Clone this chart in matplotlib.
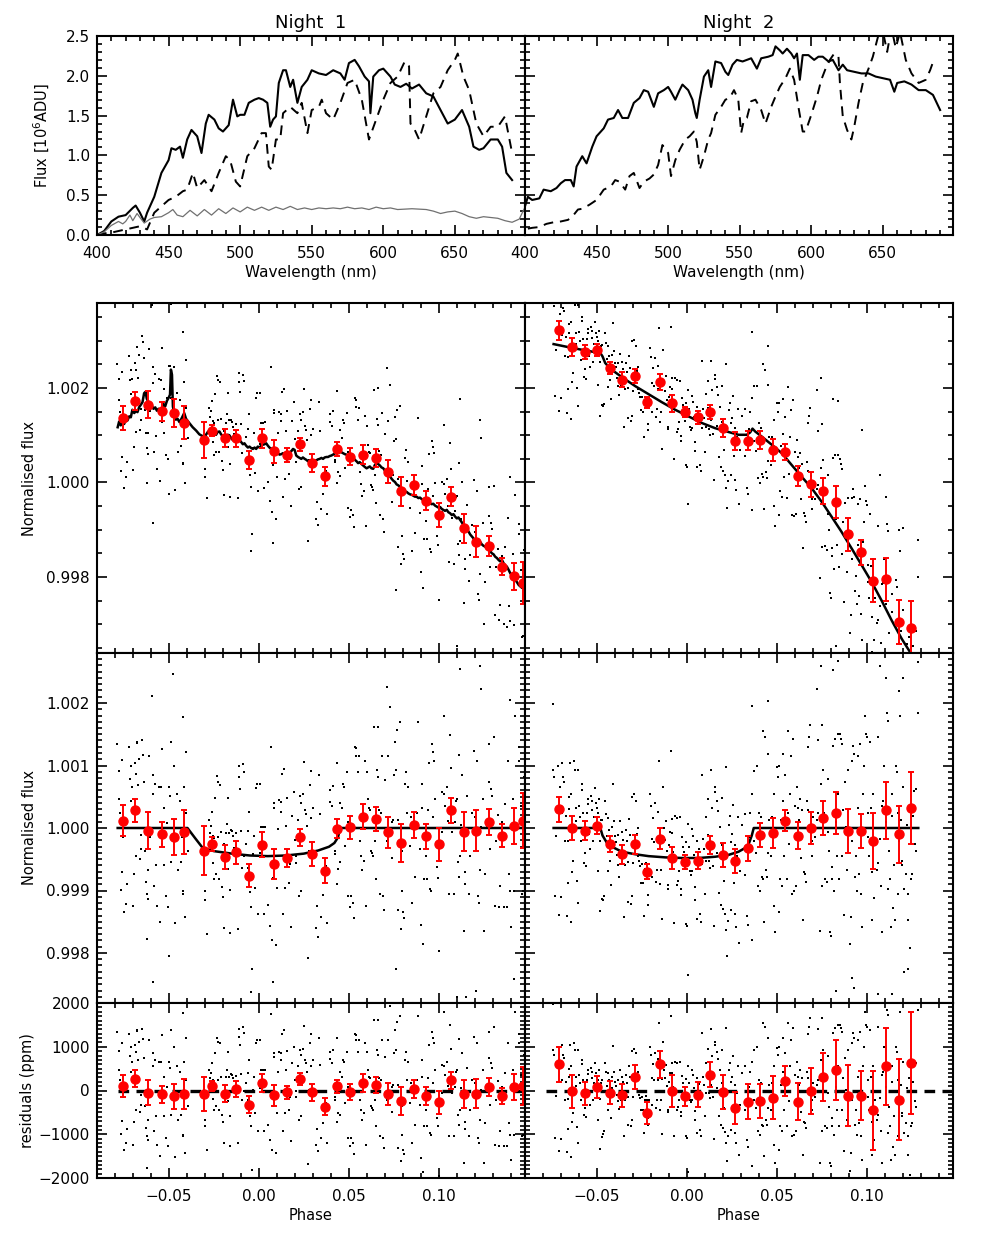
"""
Two-night transit light curves: spectra, raw and detrended flux, residuals.
Values read off the reference figure.
"""

import matplotlib

matplotlib.use("Agg")
import matplotlib.pyplot as plt
import numpy as np
from matplotlib.ticker import MultipleLocator, FuncFormatter

# ---------------------------------------------------------------- spectra
wl_n1_star = [400, 405, 410, 415, 420, 425, 427, 430, 433, 435, 440, 445, 450, 452, 455, 458,
              460, 463, 466, 470, 473, 476, 478, 482, 485, 488, 492, 495, 498, 500, 503, 506,
              510, 513, 516, 519, 521, 523, 525, 527, 530, 532, 535, 537, 540, 543, 547, 550,
              555, 560, 565, 570, 573, 576, 580, 583, 587, 590, 591, 593, 597, 600, 605, 608,
              612, 616, 620, 625, 630, 635, 640, 645, 650, 655, 660, 663, 667, 670, 675, 680,
              683, 686, 690]
fx_n1_star = [0.00, 0.05, 0.17, 0.23, 0.25, 0.34, 0.37, 0.28, 0.17, 0.28, 0.48, 0.78, 0.94, 1.09,
              1.07, 1.11, 0.97, 1.20, 1.32, 1.24, 1.03, 1.40, 1.51, 1.45, 1.34, 1.30, 1.38, 1.70,
              1.49, 1.51, 1.51, 1.66, 1.70, 1.72, 1.70, 1.66, 1.36, 1.45, 1.49, 1.91, 2.07, 2.07,
              1.86, 1.95, 1.66, 1.86, 1.95, 2.07, 2.03, 2.01, 2.07, 2.03, 1.95, 2.16, 2.20, 2.12,
              1.99, 1.93, 1.53, 1.99, 2.07, 2.09, 1.99, 1.89, 1.86, 1.90, 1.84, 1.89, 1.78, 1.74,
              1.57, 1.40, 1.45, 1.57, 1.36, 1.11, 1.07, 1.09, 1.20, 1.20, 1.11, 0.78, 0.69]

wl_n1_comp = [400, 405, 410, 415, 420, 425, 430, 435, 440, 445, 450, 455, 460, 463, 467, 470,
              475, 480, 485, 490, 493, 497, 500, 505, 510, 515, 518, 520, 522, 525, 528, 530,
              535, 540, 543, 547, 550, 555, 557, 560, 565, 570, 575, 580, 585, 590, 595, 600,
              605, 610, 615, 618, 619, 622, 625, 630, 635, 640, 645, 650, 652, 656, 660, 665,
              670, 675, 680, 685, 690]
fx_n1_comp = [0.00, 0.02, 0.03, 0.05, 0.07, 0.09, 0.11, 0.07, 0.28, 0.36, 0.44, 0.48, 0.55, 0.57,
              0.78, 0.59, 0.69, 0.55, 0.78, 0.99, 0.94, 0.67, 0.61, 0.99, 1.09, 1.28, 1.28, 0.86,
              0.82, 1.20, 1.20, 1.53, 1.61, 1.53, 1.66, 1.28, 1.57, 1.61, 1.70, 1.53, 1.45, 1.66,
              1.91, 1.95, 1.70, 1.20, 1.45, 1.70, 1.91, 1.99, 2.18, 2.12, 1.40, 1.32, 1.20, 1.49,
              1.78, 1.86, 2.07, 2.20, 2.28, 1.99, 1.82, 1.40, 1.24, 1.36, 1.36, 1.49, 1.03]

wl_n1_sky = [400, 405, 410, 415, 418, 420, 423, 425, 428, 430, 433, 437, 440, 445, 450, 453,
             456, 460, 465, 470, 475, 480, 485, 490, 495, 500, 505, 510, 515, 520, 525, 530,
             535, 540, 545, 550, 555, 560, 565, 570, 575, 580, 585, 590, 595, 600, 605, 610,
             620, 630, 635, 640, 645, 650, 655, 660, 665, 670, 675, 680, 685, 690, 695, 699]
fx_n1_sky = [0.00, 0.04, 0.12, 0.17, 0.14, 0.17, 0.25, 0.18, 0.27, 0.22, 0.15, 0.20, 0.22, 0.23,
             0.28, 0.32, 0.25, 0.23, 0.31, 0.24, 0.32, 0.25, 0.33, 0.27, 0.34, 0.29, 0.35, 0.31,
             0.35, 0.31, 0.35, 0.32, 0.36, 0.32, 0.34, 0.32, 0.34, 0.33, 0.34, 0.33, 0.35, 0.33,
             0.34, 0.32, 0.35, 0.33, 0.34, 0.32, 0.33, 0.32, 0.30, 0.27, 0.29, 0.30, 0.27, 0.23,
             0.21, 0.23, 0.22, 0.21, 0.18, 0.16, 0.20, 0.35]

wl_n2_star = [400, 402, 405, 410, 413, 418, 422, 425, 428, 432, 434, 436, 440, 443, 447, 450,
              455, 458, 462, 465, 468, 472, 476, 480, 483, 486, 490, 493, 497, 500, 502, 505,
              508, 510, 514, 517, 519, 520, 522, 525, 528, 530, 533, 537, 540, 542, 545, 548,
              552, 555, 558, 562, 565, 570, 573, 575, 578, 580, 583, 586, 588, 590, 592, 594,
              598, 602, 605, 608, 612, 615, 619, 622, 625, 630, 635, 640, 645, 650, 655, 658,
              660, 665, 670, 675, 680, 685, 690]
fx_n2_star = [0.36, 0.48, 0.44, 0.46, 0.57, 0.55, 0.59, 0.65, 0.69, 0.69, 0.61, 0.86, 0.99, 0.90,
              1.11, 1.24, 1.34, 1.45, 1.47, 1.57, 1.47, 1.47, 1.66, 1.72, 1.82, 1.80, 1.61, 1.78,
              1.82, 1.86, 1.80, 1.70, 1.82, 1.89, 1.82, 1.70, 1.53, 1.47, 1.70, 1.99, 2.07, 1.86,
              2.18, 2.16, 2.05, 2.01, 2.14, 2.20, 2.18, 2.20, 2.22, 2.09, 2.22, 2.24, 2.26, 2.37,
              2.32, 2.28, 2.34, 2.28, 2.22, 2.28, 1.95, 2.26, 2.26, 2.20, 2.24, 2.24, 2.18, 2.20,
              2.07, 2.14, 2.07, 2.05, 2.03, 2.03, 1.99, 1.97, 1.95, 1.80, 1.91, 1.93, 1.89, 1.82,
              1.82, 1.76, 1.57]

wl_n2_comp = [402, 405, 410, 415, 420, 425, 430, 433, 437, 440, 445, 450, 455, 460, 463, 466,
              470, 473, 476, 480, 483, 487, 490, 493, 496, 500, 502, 505, 508, 512, 515, 518,
              520, 522, 525, 528, 530, 533, 537, 540, 543, 546, 549, 551, 553, 555, 558, 561,
              565, 568, 572, 575, 578, 582, 585, 588, 591, 594, 596, 600, 604, 607, 610, 613,
              616, 619, 620, 622, 625, 628, 630, 633, 636, 640, 643, 646, 649, 653, 656, 659,
              662, 666, 670, 675, 680, 683, 686]
fx_n2_comp = [0.08, 0.09, 0.10, 0.14, 0.16, 0.17, 0.19, 0.23, 0.32, 0.33, 0.38, 0.44, 0.57, 0.61,
              0.69, 0.67, 0.57, 0.74, 0.78, 0.59, 0.67, 0.71, 0.76, 0.88, 1.13, 1.03, 0.74, 0.94,
              1.07, 1.20, 1.24, 1.30, 1.17, 0.82, 0.99, 1.20, 1.28, 1.51, 1.61, 1.70, 1.72, 1.82,
              1.70, 1.28, 1.45, 1.47, 1.68, 1.70, 1.57, 1.40, 1.61, 1.74, 1.86, 1.97, 2.09, 1.95,
              1.61, 1.30, 1.30, 1.51, 1.74, 1.95, 2.09, 2.20, 2.28, 2.24, 1.91, 1.49, 1.32, 1.20,
              1.36, 1.66, 1.91, 2.09, 2.24, 2.45, 2.65, 2.30, 2.60, 2.35, 2.55, 2.20, 2.03, 1.91,
              1.95, 2.07, 2.22]

# ---------------------------------------------------------------- night 1 light curve
bin_phase_n1 = [-0.0755, -0.0686, -0.0615, -0.0539, -0.0474, -0.0416, -0.0303, -0.0262, -0.0191,
                -0.0125, -0.0054, 0.0019, 0.0087, 0.0158, 0.0229, 0.0297, 0.0368, 0.0435, 0.0508,
                0.0580, 0.0651, 0.0719, 0.0790, 0.0861, 0.0930, 0.1000, 0.1069, 0.1140, 0.1210,
                0.1279, 0.1350, 0.1418, 0.1469]
bin_raw_n1 = [1.00136, 1.00172, 1.00165, 1.00151, 1.00147, 1.00127, 1.00090, 1.00110, 1.00094,
              1.00094, 1.00048, 1.00094, 1.00066, 1.00059, 1.00081, 1.00041, 1.00013, 1.00071,
              1.00055, 1.00059, 1.00052, 1.00023, 0.99981, 0.99995, 0.99961, 0.99931, 0.99970,
              0.99903, 0.99875, 0.99866, 0.99822, 0.99801, 0.99787]
bin_det_n1 = [1.00012, 1.00028, 0.99996, 0.99990, 0.99986, 0.99994, 0.99964, 0.99974, 0.99954,
              0.99961, 0.99924, 0.99973, 0.99943, 0.99952, 0.99985, 0.99958, 0.99932, 0.99999,
              1.00001, 1.00018, 1.00014, 0.99993, 0.99976, 1.00005, 0.99987, 0.99974, 1.00028,
              0.99994, 0.99996, 1.00010, 0.99988, 1.00003, 1.00012]
bin_err_n1 = [0.00025, 0.00019, 0.00029, 0.00020, 0.00029, 0.00035, 0.00039, 0.00011, 0.00019,
              0.00018, 0.00019, 0.00020, 0.00024, 0.00015, 0.00014, 0.00019, 0.00020, 0.00015,
              0.00019, 0.00020, 0.00019, 0.00025, 0.00031, 0.00021, 0.00020, 0.00026, 0.00020,
              0.00031, 0.00033, 0.00021, 0.00018, 0.00029, 0.00044]
bin_res_n1 = [100, 270, -50, -90, -130, -80, -80, 100, -70, 40, -320, 170, -110, -40, 260, -40,
              -370, 100, -30, 170, 130, -80, -240, 40, -130, -270, 230, -80, -70, 80, -130, 80, 100]
bin_reserr_n1 = [250, 190, 290, 200, 290, 350, 390, 110, 190, 180, 190, 200, 240, 150, 140, 190,
                 200, 150, 190, 200, 190, 250, 310, 210, 200, 260, 200, 310, 330, 210, 180, 290, 440]

transit_phase_n1 = [-0.0785, -0.0397, -0.0355, -0.0312, -0.0250, -0.0150, -0.0050, 0.0050, 0.0150,
                    0.0250, 0.0330, 0.0390, 0.0420, 0.0440, 0.0452, 0.1480]
transit_flux_n1 = [1.0, 1.0, 0.99984, 0.99968, 0.99963, 0.99959, 0.99956, 0.99955, 0.99956,
                   0.99959, 0.99964, 0.99970, 0.99976, 0.99985, 1.0, 1.0]

full_phase_n1 = [-0.0785, -0.0777, -0.0768, -0.0758, -0.0749, -0.0740, -0.0731, -0.0721, -0.0712,
                 -0.0703, -0.0693, -0.0684, -0.0675, -0.0666, -0.0656, -0.0647, -0.0638, -0.0630,
                 -0.0623, -0.0613, -0.0604, -0.0595, -0.0586, -0.0576, -0.0567, -0.0558, -0.0548,
                 -0.0539, -0.0530, -0.0521, -0.0511, -0.0502, -0.0494, -0.0489, -0.0483, -0.0478,
                 -0.0470, -0.0461, -0.0452, -0.0442, -0.0433, -0.0424, -0.0415, -0.0405, -0.0387,
                 -0.0368, -0.0349, -0.0331, -0.0312, -0.0301, -0.0294, -0.0284, -0.0275, -0.0266,
                 -0.0257, -0.0247, -0.0238, -0.0229, -0.0219, -0.0210, -0.0201, -0.0191, -0.0182,
                 -0.0173, -0.0164, -0.0154, -0.0145, -0.0136, -0.0126, -0.0117, -0.0108, -0.0099,
                 -0.0089, -0.0080, -0.0071, -0.0061, -0.0052, -0.0043, -0.0033, -0.0024, -0.0015,
                 -0.0006, 0.0004, 0.0013, 0.0022, 0.0032, 0.0041, 0.0050, 0.0059, 0.0069, 0.0078,
                 0.0087, 0.0097, 0.0106, 0.0115, 0.0125, 0.0134, 0.0143, 0.0152, 0.0162, 0.0171,
                 0.0180, 0.0190, 0.0199, 0.0208, 0.0218, 0.0227, 0.0236, 0.0245, 0.0255, 0.0264,
                 0.0273, 0.0283, 0.0292, 0.0301, 0.0310, 0.0320, 0.0329, 0.0338, 0.0348, 0.0357,
                 0.0366, 0.0376, 0.0385, 0.0394, 0.0403, 0.0413, 0.0422, 0.0431, 0.0441, 0.0450,
                 0.0459, 0.0468, 0.0478, 0.0487, 0.0496, 0.0506, 0.0515, 0.0524, 0.0534, 0.0543,
                 0.0552, 0.0561, 0.0571, 0.0580, 0.0589, 0.0599, 0.0608, 0.0617, 0.0626, 0.0636,
                 0.0645, 0.0654, 0.0664, 0.0673, 0.0682, 0.0692, 0.0701, 0.0710, 0.0719, 0.0729,
                 0.0738, 0.0747, 0.0757, 0.0766, 0.0775, 0.0785, 0.0794, 0.0803, 0.0812, 0.0822,
                 0.0831, 0.0840, 0.0850, 0.0859, 0.0868, 0.0877, 0.0887, 0.0896, 0.0905, 0.0915,
                 0.0924, 0.0933, 0.0943, 0.0952, 0.0961, 0.0970, 0.0980, 0.0989, 0.0998, 0.1008,
                 0.1017, 0.1026, 0.1035, 0.1045, 0.1054, 0.1063, 0.1073, 0.1082, 0.1091, 0.1101,
                 0.1110, 0.1119, 0.1128, 0.1138, 0.1147, 0.1156, 0.1166, 0.1175, 0.1184, 0.1193,
                 0.1203, 0.1212, 0.1221, 0.1231, 0.1240, 0.1249, 0.1259, 0.1268, 0.1277, 0.1286,
                 0.1296, 0.1305, 0.1314, 0.1324, 0.1333, 0.1342, 0.1352, 0.1361, 0.1370, 0.1379,
                 0.1389, 0.1398, 0.1407, 0.1417, 0.1426, 0.1435, 0.1445, 0.1454, 0.1463, 0.1476]
full_flux_n1 = [1.00117, 1.00129, 1.00121, 1.00126, 1.00124, 1.00133, 1.00131, 1.00140, 1.00138,
                1.00154, 1.00147, 1.00151, 1.00149, 1.00159, 1.00165, 1.00170, 1.00189, 1.00192,
                1.00177, 1.00170, 1.00165, 1.00163, 1.00156, 1.00159, 1.00152, 1.00156, 1.00151,
                1.00154, 1.00166, 1.00161, 1.00173, 1.00179, 1.00186, 1.00239, 1.00228, 1.00161,
                1.00142, 1.00133, 1.00135, 1.00128, 1.00133, 1.00140, 1.00147, 1.00135, 1.00126,
                1.00117, 1.00110, 1.00102, 1.00098, 1.00094, 1.00101, 1.00107, 1.00110, 1.00112,
                1.00107, 1.00102, 1.00101, 1.00107, 1.00108, 1.00102, 1.00098, 1.00094, 1.00095,
                1.00101, 1.00100, 1.00094, 1.00090, 1.00093, 1.00090, 1.00088, 1.00090, 1.00086,
                1.00081, 1.00083, 1.00078, 1.00074, 1.00076, 1.00073, 1.00071, 1.00074, 1.00071,
                1.00076, 1.00074, 1.00078, 1.00080, 1.00081, 1.00083, 1.00078, 1.00074, 1.00071,
                1.00073, 1.00069, 1.00064, 1.00062, 1.00059, 1.00060, 1.00062, 1.00059, 1.00062,
                1.00060, 1.00064, 1.00066, 1.00071, 1.00069, 1.00057, 1.00054, 1.00052, 1.00050,
                1.00053, 1.00050, 1.00048, 1.00045, 1.00047, 1.00045, 1.00043, 1.00046, 1.00047,
                1.00049, 1.00050, 1.00052, 1.00050, 1.00053, 1.00054, 1.00054, 1.00056, 1.00057,
                1.00059, 1.00061, 1.00069, 1.00074, 1.00069, 1.00064, 1.00062, 1.00060, 1.00059,
                1.00055, 1.00053, 1.00050, 1.00052, 1.00048, 1.00045, 1.00041, 1.00043, 1.00039,
                1.00036, 1.00033, 1.00030, 1.00032, 1.00034, 1.00030, 1.00029, 1.00037, 1.00041,
                1.00039, 1.00036, 1.00032, 1.00030, 1.00025, 1.00020, 1.00016, 1.00013, 1.00008,
                1.00004, 1.00001, 0.99996, 0.99994, 0.99991, 0.99988, 0.99984, 0.99981, 0.99980,
                0.99977, 0.99975, 0.99974, 0.99972, 0.99970, 0.99970, 0.99967, 0.99968, 0.99965,
                0.99963, 0.99961, 0.99963, 0.99958, 0.99956, 0.99954, 0.99955, 0.99951, 0.99949,
                0.99947, 0.99948, 0.99944, 0.99942, 0.99940, 0.99942, 0.99937, 0.99935, 0.99931,
                0.99933, 0.99928, 0.99924, 0.99926, 0.99921, 0.99916, 0.99910, 0.99907, 0.99903,
                0.99896, 0.99890, 0.99886, 0.99882, 0.99876, 0.99875, 0.99871, 0.99874, 0.99869,
                0.99866, 0.99864, 0.99861, 0.99857, 0.99855, 0.99850, 0.99848, 0.99843, 0.99840,
                0.99836, 0.99833, 0.99836, 0.99829, 0.99824, 0.99822, 0.99815, 0.99808, 0.99803,
                0.99799, 0.99794, 0.99789, 0.99783, 0.99780, 0.99777, 0.99775]

zero_phase_n1 = [-0.0786, 0.148]

dot_phase_n1 = [
    -0.0787, -0.0776, -0.0778, -0.0772, -0.0759, -0.0763, -0.0753, -0.0764, -0.0750, -0.0740,
    -0.0735, -0.0722, -0.0716, -0.0712, -0.0709, -0.0703, -0.0698, -0.0694, -0.0690, -0.0685,
    -0.0679, -0.0675, -0.0683, -0.0672, -0.0666, -0.0662, -0.0657, -0.0653, -0.0647, -0.0642,
    -0.0638, -0.0634, -0.0629, -0.0623, -0.0621, -0.0619, -0.0616, -0.0610, -0.0604, -0.0591,
    -0.0586, -0.0582, -0.0577, -0.0573, -0.0567, -0.0554, -0.0552, -0.0545, -0.0541, -0.0536,
    -0.0530, -0.0526, -0.0517, -0.0512, -0.0504, -0.0499, -0.0493, -0.0489, -0.0486, -0.0478,
    -0.0471, -0.0465, -0.0456, -0.0448, -0.0437, -0.0433, -0.0430, -0.0424, -0.0422, -0.0419,
    -0.0415, -0.0411, -0.0407, -0.0404, -0.0396,
    -0.0301, -0.0298, -0.0290, -0.0275, -0.0270, -0.0266, -0.0262, -0.0257, -0.0251, -0.0255,
    -0.0247, -0.0244, -0.0238, -0.0233, -0.0229, -0.0225, -0.0220, -0.0214, -0.0210, -0.0207,
    -0.0201, -0.0195, -0.0192, -0.0182, -0.0177, -0.0173, -0.0169, -0.0164, -0.0160, -0.0158,
    -0.0154, -0.0151, -0.0145, -0.0136, -0.0127, -0.0117, -0.0113, -0.0108, -0.0104, -0.0099,
    -0.0093, -0.0089, -0.0084, -0.0080, -0.0071, -0.0061, -0.0058, -0.0052, -0.0047, -0.0043,
    -0.0039, -0.0034, -0.0028, -0.0020, -0.0015, -0.0009, -0.0006, 0.0004, 0.0009, 0.0013,
    0.0022, 0.0028, 0.0035, 0.0050, 0.0060, 0.0069, 0.0073, 0.0078, 0.0084, 0.0087,
    0.0093, 0.0102, 0.0106, 0.0110, 0.0121, 0.0125, 0.0128, 0.0134, 0.0140, 0.0143,
    0.0153, 0.0158, 0.0166, 0.0171, 0.0177, 0.0184, 0.0195, 0.0199, 0.0205, 0.0208,
    0.0218, 0.0221, 0.0227, 0.0232, 0.0236, 0.0246, 0.0251, 0.0259, 0.0262, 0.0270,
    0.0273, 0.0277, 0.0283, 0.0288, 0.0292, 0.0301,
    0.0320, 0.0329, 0.0333, 0.0339, 0.0322, 0.0344, 0.0357, 0.0367, 0.0376, 0.0381,
    0.0395, 0.0397, 0.0404, 0.0413, 0.0422, 0.0426, 0.0432, 0.0437, 0.0441, 0.0450,
    0.0452, 0.0463, 0.0469, 0.0474, 0.0478, 0.0488, 0.0493, 0.0497, 0.0506, 0.0515,
    0.0525, 0.0530, 0.0534, 0.0538, 0.0543, 0.0549, 0.0556, 0.0562, 0.0567, 0.0575,
    0.0581, 0.0586, 0.0590, 0.0595, 0.0599, 0.0608, 0.0612, 0.0618, 0.0623, 0.0627,
    0.0636, 0.0642, 0.0646, 0.0649, 0.0655, 0.0660, 0.0664, 0.0668, 0.0674, 0.0679,
    0.0683, 0.0692, 0.0698, 0.0701, 0.0711, 0.0720, 0.0729, 0.0739, 0.0742, 0.0748,
    0.0753, 0.0757, 0.0761, 0.0767, 0.0772, 0.0776, 0.0785, 0.0791, 0.0794, 0.0798,
    0.0804, 0.0809, 0.0813, 0.0817, 0.0822, 0.0832, 0.0841, 0.0846, 0.0850, 0.0860,
    0.0869, 0.0878, 0.0887, 0.0897, 0.0902, 0.0906, 0.0910, 0.0915, 0.0921, 0.0928,
    0.0934, 0.0943, 0.0947, 0.0953, 0.0958, 0.0962, 0.0966, 0.0971, 0.0973, 0.0980,
    0.0990, 0.0995, 0.0999, 0.1008, 0.1018, 0.1021, 0.1027, 0.1032, 0.1036, 0.1046,
    0.1051, 0.1055, 0.1059, 0.1064, 0.1070, 0.1073, 0.1083, 0.1088, 0.1096, 0.1101,
    0.1107, 0.1111, 0.1114, 0.1120, 0.1125, 0.1129, 0.1139, 0.1144, 0.1148, 0.1157,
    0.1166, 0.1176, 0.1185, 0.1194, 0.1200, 0.1213, 0.1218, 0.1222, 0.1232, 0.1237,
    0.1245, 0.1250, 0.1259, 0.1269, 0.1278, 0.1282, 0.1287, 0.1293, 0.1297, 0.1306,
    0.1315, 0.1319, 0.1330, 0.1334, 0.1343, 0.1352, 0.1362, 0.1371, 0.1380, 0.1386,
    0.1393, 0.1399, 0.1404, 0.1412, 0.1418, 0.1427, 0.1431, 0.1445, 0.1447, 0.1455,
    0.1464, 0.1468, 0.1473, 0.1479,
    -0.0478, -0.0595, 0.1119, 0.1227, 0.0714, 0.1236, 0.1398, -0.0591, -0.0045, 0.0078,
    0.0763, 0.1100, 0.1150, 0.1210, 0.1417, -0.0500]
dot_res_n1 = [
    1340, 910, 470, 240, 1090, -700, -140, -990, -1350, -1210,
    -890, 1290, 790, 1000, 430, 660, -1240, -730, 1040, -440,
    1360, 1380, 870, 690, 1110, -500, -330, -110, 1400, 1170,
    740, -360, -860, -1050, -1770, -1140, -670, 1150, -140, 850,
    550, -930, 700, -590, -1240, 660, -1500, 660, -250, 1270,
    320, -590, -1080, 80, -1270, 660, 510, 1380, -550, -140,
    1000, -1520, 550, -670, 430, -550, -140, 1780, -1010, -1050,
    660, -1430, 1210, 240, -360,
    -820, -680, -1360, 470, 280, 390, 620, 240, 210, -200,
    -440, 850, -360, 1210, 1110, 240, -440, 1080, 320, -550,
    -710, 130, -1200, 320, 470, -250, 890, 320, -590, -1270,
    380, 360, 280, 90, 330, -1200, 1230, 1410, 1040, 380,
    -210, 1460, 1320, -20, 180, -210, 390, 700, -590, -820,
    -1820, 20, 320, -520, 1080, 1150, -930, 1150, 50, 470,
    470, -930, 470, -780, -1120, 1740, -1350, -360, 770, 850,
    -1430, -520, 430, 890, 700, 860, 1300, -930, 1380, -520,
    470, 910, -440, -140, -1160, 620, 1000, 240, -20, -140,
    550, -670, 930, 810, -590, 960, 1470, 700, 620, 430,
    -1690, 20, 1080, 550, 1300, 700,
    -1240, -1390, 1210, 580, -890, -1080, -740, -380, -290, -1210,
    710, 890, 620, 930, -140, -210, -710, 1210, -520, 430,
    -550, 320, 700, 660, -290, 890, 90, -1080, -1260, -1080,
    -1200, -1440, 1300, 1280, 1150, 890, 1150, -210, -440, -670,
    240, -520, 1080, -1240, 890, 470, 320, 280, -360, -400,
    -440, 1610, -210, -820, 930, 810, 1620, 280, -1050, 240,
    1150, -1080, -1310, 770, -210, 1150, 1930, -480, 90, 130,
    850, 1380, 930, 1570, 130, -1310, 1700, -1620, -1010, -360,
    -1350, -1440, 700, 890, 240, 660, -290, 170, -1200, 170,
    -780, 240, 1700, -330, -1550, 700, 320, -1860, -820, -440,
    -820, 280, 1040, -970, -1010, 1340, 1210, 170, 1080, 470,
    -630, -800, -1960, -250, -60, 580, 550, 1800, 360, 660,
    110, -1050, 280, 1490, 960, -60, -1050, 90, 430, 470,
    -550, -780, 1170, -440, 50, 850, -1650, -710, -890, 510,
    -1050, -440, 240, 1230, 170, 1080, -1080, -1200, -670, 20,
    470, -1650, -740, 20, 1340, 740, -330, 620, 510, 1460,
    -1240, -210, 210, -1270, -930, 90, -1270, 390, -1270, 1080,
    -740, -1010, -1580, 470, -1010, 1800, 20, 1300, 1080, 360,
    -1050, -1010, 810, 1530,
    2460, 2120, 2550, 2600, 2250, 2220, 2040, -2460, -2180, -2010,
    -2250, -2700, -2700, -2600, -2420, -2050]

# ---------------------------------------------------------------- night 2 light curve
bin_phase_n2 = [-0.0709, -0.0639, -0.0569, -0.0498, -0.0428, -0.0361, -0.0291, -0.0220, -0.0150,
                -0.0080, -0.0009, 0.0061, 0.0130, 0.0200, 0.0269, 0.0339, 0.0409, 0.0480, 0.0548,
                0.0619, 0.0689, 0.0759, 0.0828, 0.0898, 0.0969, 0.1037, 0.1106, 0.1178, 0.1248]
bin_raw_n2 = [1.00322, 1.00286, 1.00276, 1.00281, 1.00242, 1.00218, 1.00225, 1.00170, 1.00213,
              1.00168, 1.00149, 1.00138, 1.00149, 1.00115, 1.00087, 1.00088, 1.00090, 1.00069,
              1.00064, 1.00014, 0.99996, 0.99982, 0.99958, 0.99890, 0.99852, 0.99792, 0.99795,
              0.99705, 0.99691]
bin_det_n2 = [1.00030, 1.00000, 0.99996, 1.00004, 0.99974, 0.99958, 0.99974, 0.99930, 0.99983,
              0.99952, 0.99946, 0.99948, 0.99973, 0.99957, 0.99947, 0.99968, 0.99989, 0.99992,
              1.00012, 0.99988, 1.00000, 1.00016, 1.00024, 0.99995, 0.99995, 0.99979, 1.00028,
              0.99990, 1.00032]
bin_err_n2 = [0.00020, 0.00019, 0.00015, 0.00013, 0.00013, 0.00015, 0.00015, 0.00012, 0.00017,
              0.00018, 0.00011, 0.00014, 0.00015, 0.00019, 0.00019, 0.00020, 0.00019, 0.00024,
              0.00017, 0.00021, 0.00026, 0.00027, 0.00034, 0.00035, 0.00027, 0.00045, 0.00045,
              0.00046, 0.00058]
bin_res_n2 = [595, -15, -60, 76, -46, -107, 313, -511, 595, -15, -137, -92, 359, -31, -397, -259,
              -229, -160, 214, -252, -15, 313, 473, -115, -115, -450, 549, -206, 633]
bin_reserr_n2 = [397, 380, 260, 256, 252, 260, 270, 248, 313, 370, 218, 290, 286, 393, 359, 400,
                 389, 484, 340, 431, 527, 546, 679, 687, 561, 904, 877, 927, 1160]

transit_phase_n2 = [-0.0741, -0.0481, -0.0469, -0.0444, -0.0417, -0.0361, -0.0287, -0.0213,
                    -0.0120, -0.0028, 0.0065, 0.0157, 0.0232, 0.0287, 0.0324, 0.0346, 0.0361,
                    0.0372, 0.1287]
transit_flux_n2 = [1.0, 1.0, 0.99988, 0.99976, 0.99970, 0.99962, 0.99958, 0.99955, 0.99953,
                   0.99952, 0.99952, 0.99954, 0.99957, 0.99962, 0.99968, 0.99976, 0.99988, 1.0, 1.0]

full_phase_n2 = [-0.0741, -0.0639, -0.0556, -0.0481, -0.0469, -0.0454, -0.0426, -0.0361, -0.0287,
                 -0.0213, -0.0139, -0.0065, 0.0009, 0.0083, 0.0157, 0.0231, 0.0287, 0.0333, 0.0352,
                 0.0365, 0.0380, 0.0417, 0.0472, 0.0528, 0.0583, 0.0639, 0.0694, 0.0750, 0.0806,
                 0.0861, 0.0917, 0.0972, 0.1028, 0.1083, 0.1139, 0.1195, 0.1241, 0.1259, 0.1287]
full_flux_n2 = [1.00293, 1.00285, 1.00279, 1.00274, 1.00267, 1.00253, 1.00241, 1.00223, 1.00204,
                1.00187, 1.00170, 1.00154, 1.00140, 1.00126, 1.00115, 1.00107, 1.00101, 1.00101,
                1.00106, 1.00114, 1.00108, 1.00097, 1.00080, 1.00062, 1.00037, 1.00012, 0.99988,
                0.99959, 0.99927, 0.99895, 0.99860, 0.99825, 0.99789, 0.99750, 0.99708, 0.99669,
                0.99641, 0.99634, 0.99612]

zero_phase_n2 = [-0.0783, 0.148]

dot_phase_n2 = [
    -0.0742, -0.0736, -0.0729, -0.0733, -0.0718, -0.0710, -0.0699, -0.0705, -0.0696, -0.0692,
    -0.0686, -0.0681, -0.0677, -0.0673, -0.0668, -0.0662, -0.0660, -0.0658, -0.0655, -0.0649,
    -0.0644, -0.0646, -0.0640, -0.0636, -0.0631, -0.0625, -0.0622, -0.0618, -0.0612, -0.0614,
    -0.0607, -0.0603, -0.0599, -0.0594, -0.0588, -0.0584, -0.0581, -0.0575, -0.0570, -0.0566,
    -0.0562, -0.0557, -0.0551, -0.0548, -0.0544, -0.0538, -0.0533, -0.0529, -0.0525, -0.0520,
    -0.0516, -0.0511, -0.0507, -0.0501, -0.0496, -0.0492, -0.0488, -0.0485, -0.0483, -0.0477,
    -0.0474, -0.0470, -0.0464, -0.0459, -0.0455, -0.0451, -0.0446, -0.0440, -0.0437, -0.0433,
    -0.0427, -0.0422, -0.0418, -0.0414, -0.0409, -0.0403, -0.0400, -0.0396, -0.0390, -0.0385,
    -0.0381, -0.0377, -0.0372, -0.0366, -0.0363, -0.0353, -0.0348, -0.0344, -0.0340, -0.0335,
    -0.0329, -0.0326, -0.0322, -0.0316, -0.0311, -0.0307, -0.0303, -0.0298, -0.0292, -0.0289,
    -0.0285, -0.0279, -0.0274, -0.0270, -0.0266, -0.0261, -0.0255, -0.0248, -0.0242, -0.0237,
    -0.0233, -0.0229, -0.0224, -0.0218, -0.0215, -0.0211, -0.0205, -0.0200, -0.0196, -0.0192,
    -0.0187, -0.0181, -0.0178, -0.0174, -0.0168, -0.0163, -0.0159, -0.0155, -0.0150, -0.0144,
    -0.0140, -0.0137, -0.0131, -0.0126, -0.0122, -0.0118, -0.0113, -0.0107, -0.0104, -0.0100,
    -0.0094, -0.0089, -0.0085, -0.0081, -0.0076, -0.0070, -0.0067, -0.0057, -0.0052, -0.0048,
    -0.0044, -0.0039, -0.0033, -0.0030, -0.0026, -0.0020, -0.0015, -0.0011, -0.0007, -0.0002,
    0.0002, 0.0004, 0.0007, 0.0011, 0.0017, 0.0022, 0.0026, 0.0030, 0.0035, 0.0041,
    0.0045, 0.0048, 0.0054, 0.0059, 0.0063, 0.0067, 0.0072, 0.0078, 0.0082, 0.0085,
    0.0091, 0.0096, 0.0100, 0.0104, 0.0109, 0.0115, 0.0119, 0.0122, 0.0128, 0.0133,
    0.0137, 0.0141, 0.0146, 0.0152, 0.0156, 0.0159, 0.0165, 0.0170, 0.0174, 0.0178,
    0.0183, 0.0189, 0.0193, 0.0196, 0.0202, 0.0207, 0.0211, 0.0215, 0.0220, 0.0226,
    0.0230, 0.0233, 0.0239, 0.0244, 0.0248, 0.0252, 0.0257, 0.0263, 0.0267, 0.0270,
    0.0276, 0.0281, 0.0285, 0.0289,
    0.0297, 0.0306, 0.0321, 0.0325, 0.0334, 0.0339, 0.0347, 0.0352, 0.0362, 0.0365,
    0.0371, 0.0376, 0.0384, 0.0389, 0.0395, 0.0402, 0.0408, 0.0410, 0.0413, 0.0417,
    0.0421, 0.0426, 0.0428, 0.0436, 0.0439, 0.0445, 0.0450, 0.0454, 0.0458, 0.0469,
    0.0476, 0.0482, 0.0487, 0.0491, 0.0500, 0.0506, 0.0510, 0.0513, 0.0519, 0.0524,
    0.0528, 0.0532, 0.0537, 0.0543, 0.0547, 0.0556, 0.0561, 0.0565, 0.0569, 0.0574,
    0.0580, 0.0587, 0.0593, 0.0598, 0.0602, 0.0606, 0.0611, 0.0617, 0.0624, 0.0630,
    0.0635, 0.0639, 0.0648, 0.0654, 0.0658, 0.0661, 0.0667, 0.0672, 0.0676, 0.0680,
    0.0685, 0.0691, 0.0695, 0.0698, 0.0704, 0.0713, 0.0722, 0.0728, 0.0732, 0.0741,
    0.0746, 0.0750, 0.0754, 0.0759, 0.0765, 0.0769, 0.0778, 0.0783, 0.0787, 0.0791,
    0.0796, 0.0802, 0.0806, 0.0809, 0.0815, 0.0820, 0.0824, 0.0828, 0.0833, 0.0839,
    0.0843, 0.0846, 0.0852, 0.0857, 0.0861, 0.0865, 0.0870, 0.0876, 0.0880, 0.0883,
    0.0889, 0.0894, 0.0898, 0.0907, 0.0913, 0.0917, 0.0920, 0.0926, 0.0931, 0.0935,
    0.0939, 0.0944, 0.0950, 0.0954, 0.0957, 0.0963, 0.0968, 0.0972, 0.0981, 0.0987,
    0.0991, 0.0994, 0.1000, 0.1005, 0.1009, 0.1013, 0.1018, 0.1024, 0.1028, 0.1031,
    0.1037, 0.1042, 0.1046, 0.1055, 0.1061, 0.1065, 0.1074, 0.1079, 0.1083, 0.1087,
    0.1092, 0.1098, 0.1105, 0.1111, 0.1116, 0.1120, 0.1124, 0.1129, 0.1135, 0.1139,
    0.1142, 0.1148, 0.1153, 0.1157, 0.1161, 0.1166, 0.1172, 0.1176, 0.1179, 0.1185,
    0.1190, 0.1194, 0.1198, 0.1203, 0.1209, 0.1216, 0.1222, 0.1227, 0.1231, 0.1235,
    0.1240, 0.1246, 0.1250, 0.1259, 0.1265, 0.1268, 0.1272, 0.1277, 0.1283,
    -0.0746, 0.0746, 0.0811, 0.0843, 0.0722, 0.1074, 0.1110, 0.1204, 0.1287, 0.0454,
    0.0361, 0.0830, 0.0932, 0.0917, 0.1065, 0.1139, 0.1207, 0.1230, 0.0972, 0.1180]
dot_res_n2 = [
    930, 810, -120, -1090, 1000, -1390, -1110, 660, 1040, 240,
    810, 740, -210, 200, -1410, -880, -200, 490, 300, 1040,
    550, -1510, 130, -710, -520, 1080, 930, 320, -840, 110,
    930, -1200, 360, 170, -210, 610, 700, 240, -560, -400,
    -610, 240, 470, 380, -100, -330, 510, 430, 280, -210,
    170, 640, 400, 320, -680, 240, 470, -1330, -200, 170,
    -1060, 240, -1000, -920, 620, 430, 110, 410, -440, 240,
    -250, -630, 50, 320, 1020, 430, 200, 110, -100, -250,
    240, -430, 470, -210, 320, 200, -1030, -210, 360, 180,
    -780, -140, 550, 300, -810, 910, -670, -140, 960, 130,
    850, 330, 430, -20, -100, -180, -440, -140, -440, -960,
    -210, -120, -210, -780, -630, -210, 1000, 810, 280, -330,
    610, 240, 850, -400, -210, 230, 710, 1540, -440, -210,
    260, -990, 1120, 470, 280, 590, 110, -500, -440, 200,
    410, 1700, 620, 400, 90, -1050, 660, 640, -440, -370,
    -210, 660, -500, -590, 330, 180, 90, -140, 260, -1050,
    -1090, -1870, 550, 170, -210, -270, 470, -210, 360, 50,
    -670, -460, 280, -970, -60, 150, -900, -1030, 1320, -100,
    300, 130, -580, 640, -50, 940, 360, -60, -180, 130,
    1400, 790, -140, -1110, 1120, 1040, 890, 50, 720, -590,
    470, -780, 180, 930, -860, -400, -940, 1420, -1200, -1620,
    -1050, 470, 620, 200, -900, 320, 780, -480, -970, 130,
    -1190, -60, 550, -1470,
    -330, 400, 550, -440, -1120, -1280, 90, 430, 660, -1720,
    930, -210, -400, 1000, -930, 240, -1010, -170, 170, -790,
    1550, -820, -1500, 1460, -670, -780, 1190, -400, 130, -440,
    170, 550, -1240, -1660, 970, 810, 1000, -1350, -820, 130,
    -930, 430, 1190, -440, 850, -820, 1550, 240, -250, 550,
    1150, -1050, 1420, -1010, 360, -930, 660, 320, 130, 470,
    -480, 280, -1470, -710, -740, -860, 430, 1290, 280, 1460,
    1650, 240, -440, -210, 170, -140, 130, 240, 1400, -1650,
    700, 1650, -930, 930, 240, -820, -860, -60, 780, -370,
    -1660, -1730, -820, -630, 1310, -1010, 1420, 90, -440, 1500,
    550, -820, 1500, 1420, 1340, -440, 280, -1390, 740, 20,
    -670, 930, -60, -1850, -1430, 1080, -210, 1310, 1190, -780,
    -440, -1010, 1150, 320, -740, 1340, -1050, -1580, 550, 1000,
    1800, 1500, 1460, -140, 240, -440, 1380, 320, -1470, -710,
    550, -1120, -210, -670, -560, 1460, -170, -930, 360, -1660,
    430, 1000, 90, 1840, 1720, -970, -370, -820, -1580, 550,
    200, -1280, -590, -1470, 1000, 890, 240, -1050, -210, 1800,
    130, -590, -520, 660, -970, -740, 50, -1050, -1470, 280,
    -1920, -820, -740, 200, 590, -250, 620, -370, 1840,
    1980, 2600, 2520, 2680, 2220, 2600, 2400, 2400, 2660, 2030,
    2080, -2600, -2560, -2400, -2650, -2650, -2300, -2250, 2870, 2200]

# ---------------------------------------------------------------- figure
plt.rcParams.update({
    "font.family": "DejaVu Sans",
    "font.size": 11,
    "axes.linewidth": 1.5,
})

fig = plt.figure(figsize=(9.81, 12.4), dpi=100)

col_x = [97 / 981, 525 / 981]
col_w = 428 / 981
H = 1240
rows = {
    "spec": (1 - 235 / H, 199 / H),
    "raw": (1 - 653 / H, 350 / H),
    "det": (1 - 1003 / H, 350 / H),
    "res": (1 - 1178 / H, 175 / H),
}

RED = "#ff0000"


def minus(fmt):
    def _f(x, pos):
        if abs(x) < 1e-12:
            x = 0.0
        return fmt.format(x).replace("-", "\u2212")
    return FuncFormatter(_f)


def box_ticks(ax, xmaj, xmin, ymaj, ymin):
    ax.xaxis.set_major_locator(MultipleLocator(xmaj))
    ax.xaxis.set_minor_locator(MultipleLocator(xmin))
    ax.yaxis.set_major_locator(MultipleLocator(ymaj))
    ax.yaxis.set_minor_locator(MultipleLocator(ymin))
    ax.tick_params(which="both", direction="in", top=True, right=True,
                   labelsize=11, width=1.2, color="black")
    ax.tick_params(which="major", length=7)
    ax.tick_params(which="minor", length=3.5)
    ax.tick_params(axis="x", which="major", pad=8)
    ax.tick_params(axis="y", which="major", pad=5)


def draw_binned(ax, x, y, e):
    ax.errorbar(x, y, yerr=e, fmt="o", ms=6.5, color=RED, ecolor=RED,
                elinewidth=1.4, capsize=2.5, capthick=1.4, zorder=4)


nights = [
    dict(star=(wl_n1_star, fx_n1_star), comp=(wl_n1_comp, fx_n1_comp),
         sky=(wl_n1_sky, fx_n1_sky),
         bx=bin_phase_n1, braw=bin_raw_n1, bdet=bin_det_n1, berr=bin_err_n1,
         bres=bin_res_n1, breserr=bin_reserr_n1,
         tp=transit_phase_n1, tf=transit_flux_n1, fp=full_phase_n1, ff=full_flux_n1,
         dp=dot_phase_n1, dr=dot_res_n1, zp=zero_phase_n1, title="Night  1"),
    dict(star=(wl_n2_star, fx_n2_star), comp=(wl_n2_comp, fx_n2_comp), sky=None,
         bx=bin_phase_n2, braw=bin_raw_n2, bdet=bin_det_n2, berr=bin_err_n2,
         bres=bin_res_n2, breserr=bin_reserr_n2,
         tp=transit_phase_n2, tf=transit_flux_n2, fp=full_phase_n2, ff=full_flux_n2,
         dp=dot_phase_n2, dr=dot_res_n2, zp=zero_phase_n2, title="Night  2"),
]

DOT = dict(ls="none", marker="s", ms=2.0, mew=0, color="black")

for col, n in enumerate(nights):
    x0 = col_x[col]
    left = col == 0

    # spectra
    ax = fig.add_axes([x0, rows["spec"][0], col_w, rows["spec"][1]])
    ax.plot(*n["star"], color="black", lw=1.5)
    ax.plot(*n["comp"], color="black", lw=1.4, dashes=(5, 3.5))
    if n["sky"] is not None:
        ax.plot(*n["sky"], color="#707070", lw=0.9)
    ax.set_xlim(400, 699)
    ax.set_ylim(0, 2.5)
    box_ticks(ax, 50, 10, 0.5, 0.1)
    ax.xaxis.set_major_formatter(minus("{:.0f}"))
    ax.yaxis.set_major_formatter(minus("{:.1f}"))
    ax.set_xlabel("Wavelength (nm)", fontsize=11)
    ax.xaxis.set_label_coords(0.5, -0.15)
    ax.set_title(n["title"], fontsize=13, pad=6)
    if left:
        ax.set_ylabel("Flux [10$^6$ADU]", fontsize=10.5)
        ax.yaxis.set_label_coords(-0.105, 0.5)
    else:
        ax.tick_params(labelleft=False)

    dp = np.asarray(n["dp"])
    dr = np.asarray(n["dr"]) / 1e6
    det_dots = np.interp(dp, n["tp"], n["tf"]) + dr
    raw_dots = np.interp(dp, n["fp"], n["ff"]) + dr

    # raw light curve with systematics model
    ax = fig.add_axes([x0, rows["raw"][0], col_w, rows["raw"][1]])
    ax.plot(dp, raw_dots, **DOT)
    ax.plot(n["fp"], n["ff"], color="black", lw=1.8, zorder=3)
    draw_binned(ax, n["bx"], n["braw"], n["berr"])
    ax.set_xlim(-0.09, 0.148)
    ax.set_ylim(0.99639, 1.0038)
    box_ticks(ax, 0.05, 0.01, 0.002, 0.0005)
    ax.yaxis.set_major_formatter(minus("{:.3f}"))
    ax.tick_params(labelbottom=False)
    if left:
        ax.set_ylabel("Normalised flux", fontsize=10.5)
        ax.yaxis.set_label_coords(-0.14, 0.5)
    else:
        ax.tick_params(labelleft=False)

    # detrended light curve with transit model
    ax = fig.add_axes([x0, rows["det"][0], col_w, rows["det"][1]])
    ax.plot(dp, det_dots, **DOT)
    ax.plot(n["tp"], n["tf"], color="black", lw=1.8, zorder=3)
    draw_binned(ax, n["bx"], n["bdet"], n["berr"])
    ax.set_xlim(-0.09, 0.148)
    ax.set_ylim(0.9972, 1.0028)
    box_ticks(ax, 0.05, 0.01, 0.001, 0.0001)
    ax.yaxis.set_major_formatter(minus("{:.3f}"))
    ax.tick_params(labelbottom=False)
    if left:
        ax.set_ylabel("Normalised flux", fontsize=10.5)
        ax.yaxis.set_label_coords(-0.14, 0.5)
    else:
        ax.tick_params(labelleft=False)

    # residuals
    ax = fig.add_axes([x0, rows["res"][0], col_w, rows["res"][1]])
    ax.plot(dp, np.asarray(n["dr"]), **DOT)
    ax.plot(n["zp"], [0, 0], color="black", lw=2.4, dashes=(3.2, 2.2), zorder=3)
    draw_binned(ax, n["bx"], n["bres"], n["breserr"])
    ax.set_xlim(-0.09, 0.148)
    ax.set_ylim(-2000, 2000)
    box_ticks(ax, 0.05, 0.01, 1000, 100)
    ax.xaxis.set_major_formatter(minus("{:.2f}"))
    ax.yaxis.set_major_formatter(minus("{:.0f}"))
    ax.set_xlabel("Phase", fontsize=10.5)
    ax.xaxis.set_label_coords(0.5, -0.17)
    if left:
        ax.set_ylabel("residuals (ppm)", fontsize=10.5)
        ax.yaxis.set_label_coords(-0.145, 0.5)
    else:
        ax.tick_params(labelleft=False)

fig.savefig("out.png", dpi=100)
